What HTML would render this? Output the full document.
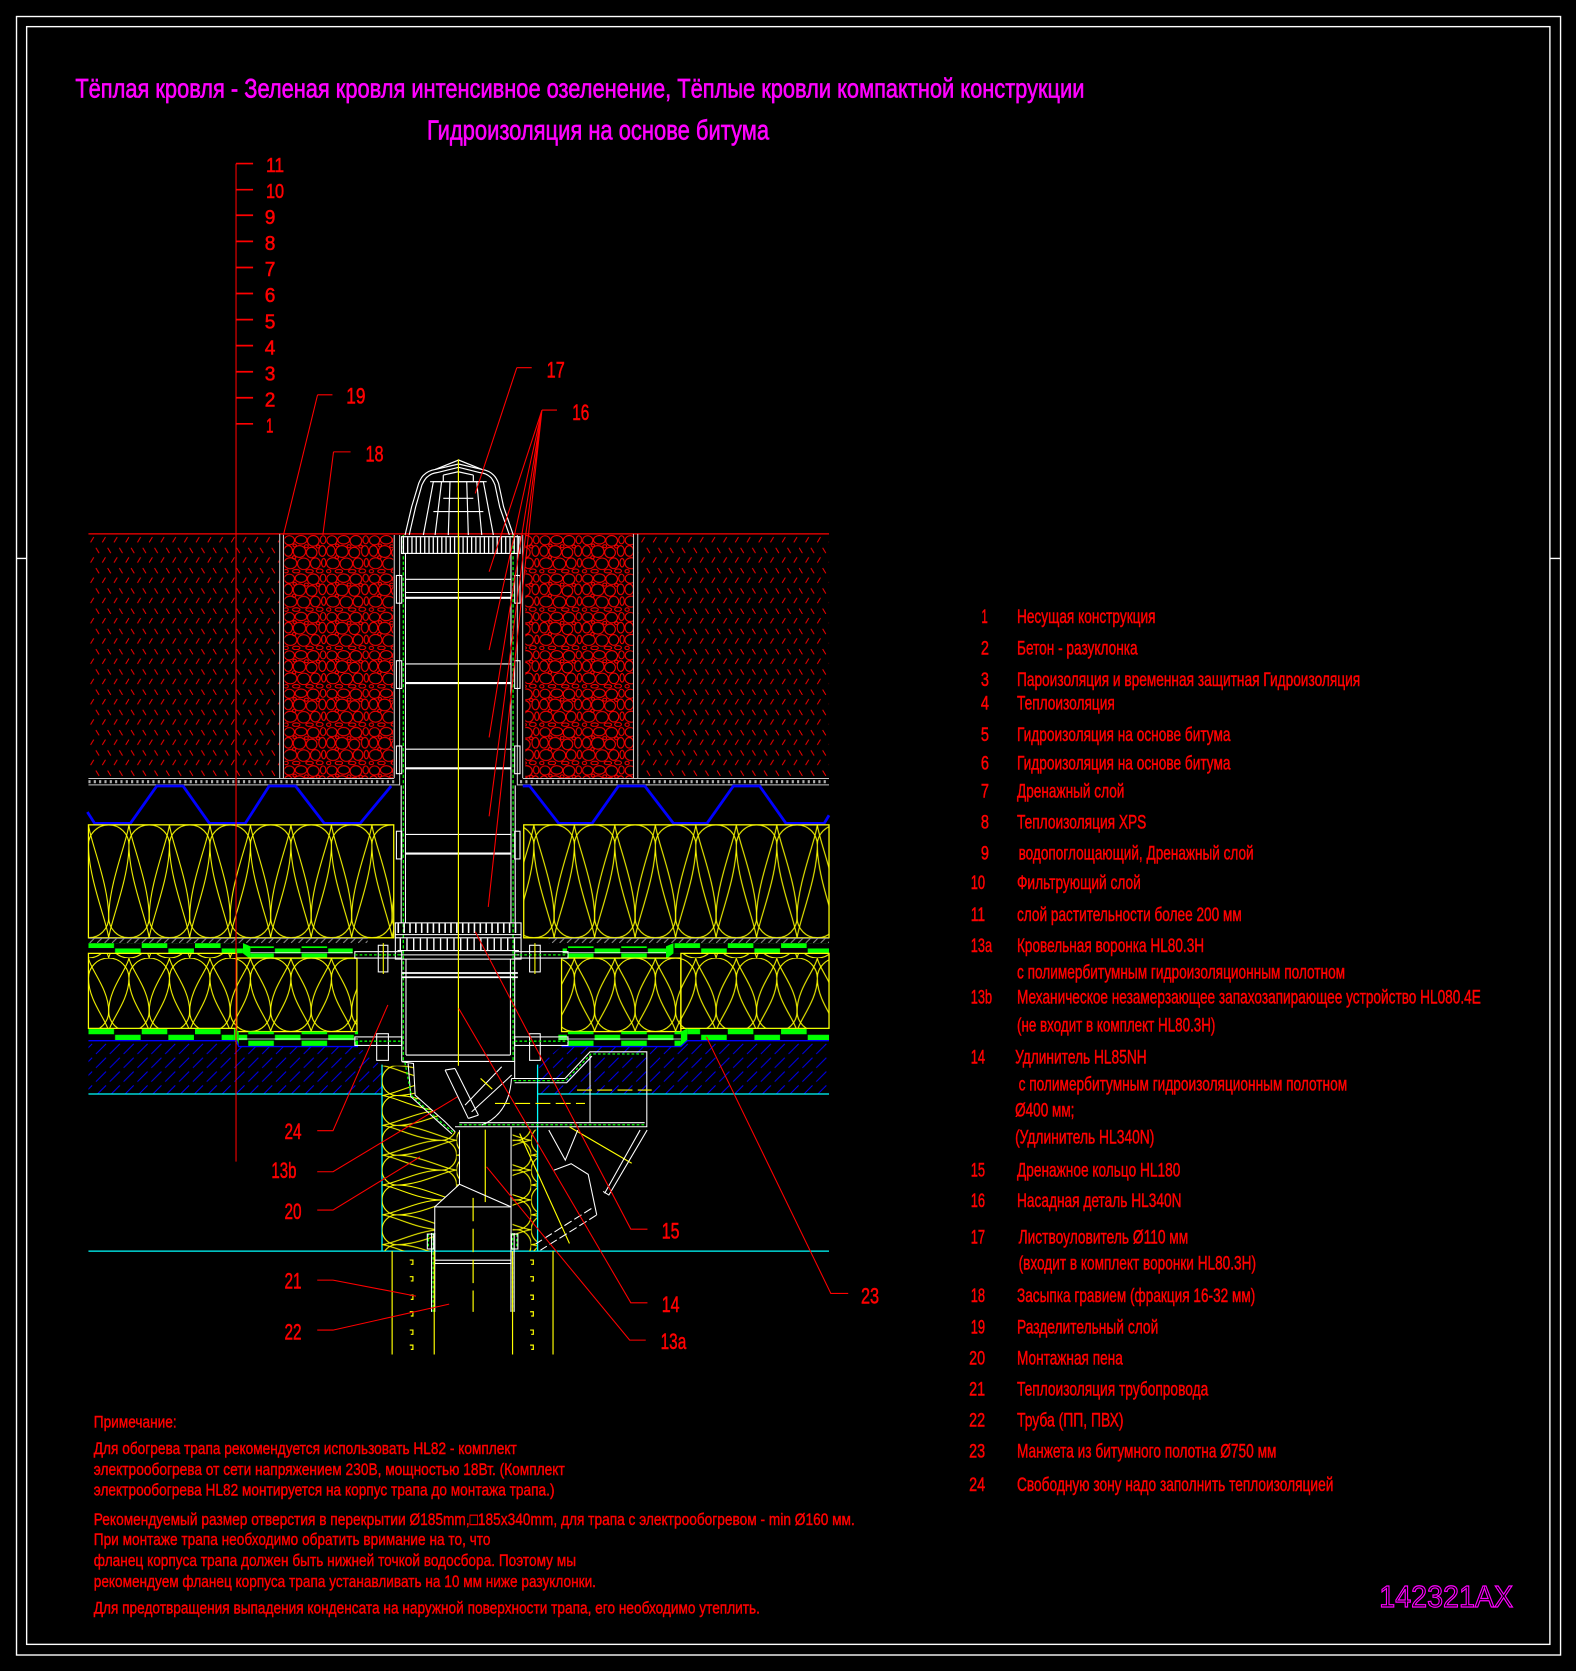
<!DOCTYPE html>
<html><head><meta charset="utf-8">
<style>
html,body{margin:0;padding:0;background:#000;}
svg{display:block;}
text{font-family:"Liberation Sans","DejaVu Sans",sans-serif;}
</style></head><body>
<svg xmlns="http://www.w3.org/2000/svg" width="1576" height="1671" viewBox="0 0 1479 1568" preserveAspectRatio="none">
<defs>
<pattern id="soil" patternUnits="userSpaceOnUse" x="83" y="502" width="11" height="19">
<path d="M2,7 L5,2 M7,12 L10,17" stroke="#f00" stroke-width="0.9" fill="none"/>
</pattern>
<pattern id="grav" patternUnits="userSpaceOnUse" x="266" y="502" width="40" height="36">
<g fill="none" stroke="#f00" stroke-width="1">
<ellipse cx="5.5" cy="5" rx="4.8" ry="4.3"/><ellipse cx="16.5" cy="4.5" rx="5.5" ry="4"/><ellipse cx="28" cy="5.5" rx="5.5" ry="5"/><ellipse cx="37.2" cy="4.5" rx="2.6" ry="3.8"/>
<ellipse cx="4.5" cy="15" rx="4" ry="5"/><ellipse cx="15" cy="15.5" rx="5.8" ry="5.5"/><ellipse cx="26.5" cy="16.5" rx="5" ry="5"/><ellipse cx="36.5" cy="15" rx="3.3" ry="5"/>
<ellipse cx="6.5" cy="26.5" rx="6" ry="5.2"/><ellipse cx="19" cy="27" rx="5.8" ry="5.4"/><ellipse cx="30" cy="26.5" rx="4.6" ry="5"/><ellipse cx="37.8" cy="26" rx="2" ry="4"/>
<ellipse cx="12" cy="34" rx="3.5" ry="1.7"/><ellipse cx="24.5" cy="34" rx="3.5" ry="1.6"/><ellipse cx="34" cy="33.8" rx="3.2" ry="1.9"/><ellipse cx="2.5" cy="34" rx="2" ry="1.6"/>
<ellipse cx="10.5" cy="9.8" rx="1.6" ry="1.3"/><ellipse cx="21.5" cy="10.5" rx="1.8" ry="1.4"/><ellipse cx="10" cy="21" rx="1.6" ry="1.5"/><ellipse cx="32.5" cy="10.8" rx="1.7" ry="1.4"/>
</g>
</pattern>
<pattern id="insU" patternUnits="userSpaceOnUse" x="83" y="774" width="38" height="106">
<g fill="none" stroke="#ff0" stroke-width="1">
<path d="M0,19 A19,19 0 0 1 38,19 C38,50 21,90 19,106 C17,90 0,50 0,19"/>
<path d="M-19,87 A19,19 0 0 0 19,87 C19,56 2,16 0,0 C-2,16 -19,56 -19,87"/>
<path d="M19,87 A19,19 0 0 0 57,87 C57,56 40,16 38,0 C36,16 19,56 19,87"/>
</g>
</pattern>
<pattern id="insL" patternUnits="userSpaceOnUse" x="83" y="899" width="38" height="69">
<g fill="none" stroke="#ff0" stroke-width="1">
<path d="M0,19 A19,19 0 0 1 38,19 C38,40 21,58 19,69 C17,58 0,40 0,19"/>
<path d="M-19,50 A19,19 0 0 0 19,50 C19,29 2,11 0,0 C-2,11 -19,29 -19,50"/>
<path d="M19,50 A19,19 0 0 0 57,50 C57,29 40,11 38,0 C36,11 19,29 19,50"/>
</g>
</pattern>
<pattern id="insF" patternUnits="userSpaceOnUse" x="358.5" y="1000" width="70" height="28">
<g fill="none" stroke="#ff0" stroke-width="1">
<path d="M14,0 A14,14 0 0 0 14,28 C36,28 58,15 70,14 C58,13 36,0 14,0"/>
<path d="M56,-14 A14,14 0 0 1 56,14 C34,14 12,1 0,0 C12,-1 34,-14 56,-14"/>
<path d="M56,14 A14,14 0 0 1 56,42 C34,42 12,29 0,28 C12,27 34,14 56,14"/>
</g>
</pattern>
<pattern id="slab" patternUnits="userSpaceOnUse" x="0" y="0" width="13" height="13">
<path d="M-1,1 L1,-1 M0,13 L13,0 M12,14 L14,12" stroke="#0000ff" stroke-width="0.9" stroke-dasharray="12 5"/>
</pattern>
<pattern id="gbU" patternUnits="userSpaceOnUse" x="83" y="885" width="50" height="9.6">
<rect x="0" y="0" width="24" height="4.6" fill="#0f0"/><rect x="25" y="5" width="24" height="4.6" fill="#0f0"/>
</pattern>
<pattern id="gbL" patternUnits="userSpaceOnUse" x="83" y="965" width="50" height="11">
<rect x="0" y="0.5" width="24" height="5" fill="#0f0"/><rect x="25" y="6" width="24" height="5" fill="#0f0"/>
</pattern>
<pattern id="gh" patternUnits="userSpaceOnUse" x="0" y="880" width="7" height="5">
<path d="M0,5 L5,0" stroke="#9a9a9a" stroke-width="0.9"/>
</pattern>
</defs>

<rect x="0" y="0" width="1479" height="1568" fill="#000"/>

<!-- frame -->
<rect x="15.5" y="15.5" width="1449" height="1537.5" fill="none" stroke="#fff" stroke-width="1.3"/>
<rect x="25" y="25" width="1429.5" height="1518" fill="none" stroke="#fff" stroke-width="1.3"/>
<path d="M15.5,524 H25 M1454.5,524 H1464.5" stroke="#fff" stroke-width="1.3"/>

<!-- titles -->
<text x="70.7" y="91.6" font-size="25" fill="#f0f" stroke="#f0f" stroke-width="0.6" textLength="947" lengthAdjust="spacingAndGlyphs">Тёплая кровля - Зеленая кровля интенсивное озеленение, Тёплые кровли компактной конструкции</text>
<text x="400.7" y="131" font-size="26" fill="#f0f" stroke="#f0f" stroke-width="0.6" textLength="321" lengthAdjust="spacingAndGlyphs">Гидроизоляция на основе битума</text>

<!-- soil blocks -->
<rect x="83" y="502" width="179" height="228" fill="url(#soil)"/>
<rect x="599" y="502" width="179" height="228" fill="url(#soil)"/>
<!-- gravel -->
<rect x="267" y="502" width="102" height="228" fill="url(#grav)"/>
<rect x="493" y="502" width="101" height="228" fill="url(#grav)"/>
<!-- ground line -->
<path d="M83,501 H778" stroke="#f00" stroke-width="1.2"/>
<!-- separators -->
<g stroke="#c8c8c8" stroke-width="1" fill="none">
<path d="M262.5,501 V731 M266,501 V731 M594.5,501 V731 M598.5,501 V731"/>
<path d="M370,502 V730 M375,502 V737 M485.5,502 V737 M490.5,502 V730"/>
<path d="M83,730.5 H370 M490.5,730.5 H778 M83,736.5 H375 M485.5,736.5 H778"/>
</g>
<path d="M83,733.5 H372 M488,733.5 H778" stroke="#b0b0b0" stroke-width="3" stroke-dasharray="2 3"/>

<!-- drainage zigzag -->
<g fill="none" stroke="#0000ff" stroke-width="2.6" stroke-linejoin="miter">
<polyline points="82,762 88.8,772.6 122.4,772.6 147.1,737.6 171.8,737.6 196.5,772.6 230.2,772.6 252.6,737.6 277.3,737.6 304.3,772.6 338,772.6 367.1,737.6"/>
<polyline points="490.6,737.6 497,737.6 524.3,772.6 555.7,772.6 580.4,737.6 605.1,737.6 632,772.6 663.5,772.6 688.2,737.6 712.9,737.6 737.6,772.6 773.5,772.6 778,765"/>
</g>

<!-- upper insulation -->
<rect x="83" y="774" width="286.5" height="106" fill="url(#insU)" stroke="#ff0" stroke-width="1.2"/>
<rect x="491.5" y="774" width="286.5" height="106" fill="url(#insU)" stroke="#ff0" stroke-width="1.2"/>

<!-- upper membranes -->
<rect x="83" y="880" width="262" height="5" fill="url(#gh)"/>
<rect x="515" y="880" width="263" height="5" fill="url(#gh)"/>
<path d="M83,880.5 H345 M515,880.5 H778" stroke="#9a9a9a" stroke-width="0.8"/>
<rect x="83" y="885" width="145" height="9.6" fill="url(#gbU)"/>
<polygon points="228,885 235,888 235,900 228,894.6" fill="#0f0"/>
<rect x="235" y="888" width="96" height="12" fill="url(#gbU)"/>
<rect x="528" y="888" width="97" height="12" fill="url(#gbU)"/>
<polygon points="625,888 632,885 632,894.6 625,900" fill="#0f0"/>
<rect x="632" y="885" width="146" height="9.6" fill="url(#gbU)"/>
<path d="M235,894 H331 M528,894 H625" stroke="#fff" stroke-width="0.7"/>

<!-- lower insulation -->
<rect x="83" y="894.6" width="139" height="70.4" fill="url(#insL)" stroke="#ff0" stroke-width="1.2"/>
<rect x="222" y="899" width="113" height="69" fill="url(#insL)" stroke="#ff0" stroke-width="1.2"/>
<rect x="527" y="899" width="112" height="69" fill="url(#insL)" stroke="#ff0" stroke-width="1.2"/>
<rect x="639" y="894.6" width="139" height="70.4" fill="url(#insL)" stroke="#ff0" stroke-width="1.2"/>

<!-- lower membranes -->
<rect x="83" y="965" width="136.5" height="11" fill="url(#gbL)"/>
<polygon points="219.5,965 224,968 224,982 219.5,976" fill="#0f0"/>
<rect x="224" y="968" width="112" height="14" fill="url(#gbL)"/>
<rect x="524" y="968" width="115" height="14" fill="url(#gbL)"/>
<polygon points="639,968 645,965 645,976 639,982" fill="#0f0"/>
<rect x="645" y="965" width="133" height="11" fill="url(#gbL)"/>
<path d="M224,975 H336 M524,975 H639" stroke="#fff" stroke-width="0.7"/>

<!-- slab -->
<polygon points="83,976 222,976 224,982 336,982 358,1000 358,1026.6 83,1026.6" fill="url(#slab)"/>
<polygon points="504,1000 527,982 639,982 645,976 778,976 778,1026.6 504,1026.6" fill="url(#slab)"/>
<path d="M83,976.5 H222 L224,982 H336 M527,982 H639 L645,976.5 H778" stroke="#0000ff" stroke-width="1.3" fill="none"/>
<!-- cyan -->
<g stroke="#0ff" stroke-width="1.2">
<path d="M83,1026.6 H358.5 M504.5,1026.6 H778 M358.5,999 V1174 M504.5,999 V1174 M83,1174 H778"/>
</g>

<!-- foam in opening -->
<polygon points="358.5,1000 388,1000 389.6,1027.6 417.7,1052.6 427.1,1062 431,1062 431,1111 408,1132.5 408,1174 358.5,1174" fill="url(#insF)"/>
<rect x="481" y="1060" width="23" height="114" fill="url(#insF)"/>

<!-- pipe upper walls -->
<g fill="none" stroke="#fff" stroke-width="1">
<path d="M376.5,737 V866 M483.5,737 V866 M380.5,519 V866 M479.5,519 V866"/>
<rect x="372" y="540" width="5" height="26"/><rect x="483" y="540" width="5" height="26"/>
<rect x="372" y="620" width="5" height="26"/><rect x="483" y="620" width="5" height="26"/>
<rect x="372" y="700" width="5" height="26"/><rect x="483" y="700" width="5" height="26"/>
<rect x="372" y="780" width="5" height="26"/><rect x="483" y="780" width="5" height="26"/>
</g>
<path d="M378.5,502 V996 M481.5,502 V996" stroke="#0f0" stroke-width="1.2" stroke-dasharray="3 2"/>
<g stroke="#fff">
<path d="M380.5,543.6 H479.5 M380.5,556 H479.5 M380.5,623 H479.5 M380.5,703 H479.5 M380.5,783 H479.5" stroke-width="1"/>
<path d="M380.5,561 H479.5 M380.5,641 H479.5 M380.5,721 H479.5 M380.5,801 H479.5" stroke-width="2"/>
</g>

<!-- dome / leaf catcher -->
<g fill="none" stroke="#fff" stroke-width="1.1">
<path d="M380.1,502.1 L386.3,475.5 L392.9,453.6 Q395.5,447.5 397.6,445.8 Q402,441.5 408.5,440.5 L430.4,435.4 L452.3,440.5 Q459,441.5 463.2,445.8 Q466,448.5 467.9,453.6 L472.6,475.5 L481.7,502.1"/>
<path d="M384,502 L390,476 L396,455 Q399,449 401,447.5 Q405,444 410,443.5 L430.4,438.5 L450.5,443.5 Q456,444 460,447.5 Q462,449 464.5,455 L469,476 L478,502"/>
<path d="M408.5,440.5 L430.4,431.7 L452.3,440.5"/>
<path d="M397.3,502 L406.7,452 L453.6,452 L463,502 M408.3,502 L414.4,452 M420.7,502 L422.3,452 M439.5,502 L438,452 M452.1,502 L447.4,452"/>
<path d="M403.6,452 H456.7 M416,467.6 H444.2 M406.7,480 H453.6 M416,445.8 L430,442.7 L444.2,445.8 M416,445.8 V452 M444.2,445.8 V452"/>
<rect x="376.8" y="503.6" width="111.2" height="15.7"/>
</g>
<line x1="378" y1="511.5" x2="487" y2="511.5" stroke="#fff" stroke-width="15" stroke-dasharray="1.2 2.8"/>

<!-- drain grate / body -->
<g fill="none" stroke="#fff" stroke-width="1">
<rect x="371" y="866" width="118" height="34"/>
<path d="M371,877 H489 M371,880 H489 M373,892 H487 M373,896 H487"/>
<path d="M377,913 H486 M377,917 H486" stroke-width="1.6"/>
<rect x="333" y="893" width="44" height="6"/><rect x="483" y="893" width="50" height="6"/>
<rect x="333" y="973" width="44" height="8"/><rect x="483" y="973" width="50" height="8"/>
<rect x="355" y="887" width="9" height="25"/><rect x="497" y="887" width="10" height="25"/>
<rect x="353.5" y="970" width="11" height="25"/><rect x="497" y="970" width="10" height="25"/>
<path d="M377,900 V996 M381,900 V990 M479,900 V990 M483,900 V1012"/>
<path d="M377,996 H483 M381,990 H479"/>
<path d="M377,996.3 L388,997.9 L389.6,1027.6 L417.7,1052.6 L427.1,1062 M383,998 L385.5,1029 L414,1055 L424,1064"/>
<path d="M480,1012 H530.2 L553.7,987 H607 V1057.3 H427 M483,1016 H531.8 L555.5,991 M431,1053.5 H605 M553.7,990 V1054"/>
<path d="M417.7,1004.1 L439.5,1049.5 M427,1002.6 L449,1046.4 M417.7,1004.1 L427,1002.6 M439.5,1049.5 L449,1046.4"/>
<path d="M436.4,1037 L470.8,1001 M442.6,1043.3 L480.2,1008.8 M480,1012 Q478,1045 452,1055.8"/>
</g>
<line x1="373" y1="871" x2="487" y2="871" stroke="#fff" stroke-width="9" stroke-dasharray="1.5 4"/>
<line x1="375" y1="886" x2="485" y2="886" stroke="#fff" stroke-width="11" stroke-dasharray="1.3 5"/>
<g stroke="#0f0" stroke-width="1.2" stroke-dasharray="2.5 2" fill="none">
<path d="M333,896 H377 M483,896 H533 M333,977 H377 M483,977 H533"/>
<path d="M380,997 L386,1028 L415,1054 L426,1063"/>
<path d="M482,1014 H531 L554.6,989 H605 M431,1055.4 H605"/>
<path d="M402,1158 V1172 M485,1158 V1172 M406.5,1157 V1231 M481,1157 V1231"/>
</g>
<!-- yellow dashed in body -->
<g stroke="#ff0" stroke-width="1.1" fill="none">
<path d="M464.5,1035.4 H549" stroke-dasharray="14 5"/>
<path d="M541.5,1022.9 H611.6" stroke-dasharray="14 5"/>
<path d="M451,1012 L462,1022"/>
<path d="M487.7,1063.6 L534.4,1166.8 M534.4,1057.4 L592.8,1091.6"/>
<path d="M455.4,1060 V1128"/>
</g>

<!-- outlet pipe down -->
<g fill="none" stroke="#fff" stroke-width="1">
<path d="M431.2,1060.5 V1111.3 L408,1132.5 M479.6,1057.3 V1132.5 M431.2,1111.3 L479.6,1132.5"/>
<rect x="408" y="1132.5" width="71.6" height="53.1"/>
<path d="M408,1182.5 H479.6"/>
<path d="M405,1157 V1231 M408,1157 V1231 M479.5,1157 V1231 M482.5,1157 V1231"/>
<rect x="401" y="1158" width="6" height="14"/><rect x="480" y="1158" width="6" height="14"/>
</g>
<!-- branch -->
<g fill="none" stroke="#fff" stroke-width="1">
<path d="M607.3,1060.4 L571.4,1121.4 L566,1118 M600.7,1060.4 L567.4,1119.8"/>
<path d="M515,1060.4 L530.5,1088.6 L542.2,1060.4"/>
<path d="M520,1098 L536,1092 L552,1102 L560,1140"/>
<path d="M559.8,1140.2 L507.2,1173.1 M555,1134 L503,1167" stroke-dasharray="8 3"/>
</g>
<!-- pipe insulation -->
<g stroke="#ff0" stroke-width="1.1" fill="none">
<path d="M368,1174 V1271 M407.5,1174 V1271 M481,1174 V1271 M519,1174 V1271"/>
<path d="M444,1124 V1231" stroke-dasharray="22 7"/>
<path d="M384.5,1182.4 h3 v4 h-2 M384.5,1198 h3 v4 h-2 M384.5,1215.3 h3 v4 h-2 M384.5,1230.9 h3 v4 h-2 M384.5,1248.1 h3 v4 h-2 M384.5,1262.2 h3 v4 h-2"/>
<path d="M497.5,1182.4 h3 v4 h-2 M497.5,1198 h3 v4 h-2 M497.5,1215.3 h3 v4 h-2 M497.5,1230.9 h3 v4 h-2 M497.5,1248.1 h3 v4 h-2 M497.5,1262.2 h3 v4 h-2"/>
</g>
<!-- center line -->
<path d="M430.2,431 V1000" stroke="#ff0" stroke-width="1.1"/>
<path d="M359.7,885 V914 M502,885 V914" stroke="#ff0" stroke-width="1"/>

<!-- scale -->
<g stroke="#f00">
<path d="M221.5,153.5 V1090" stroke-width="1"/>
<path d="M221.5,153.5 H237.5 M221.5,178 H237.5 M221.5,202 H237.5 M221.5,226.5 H237.5 M221.5,251 H237.5 M221.5,275.4 H237.5 M221.5,299.9 H237.5 M221.5,324.3 H237.5 M221.5,348.8 H237.5 M221.5,373.2 H237.5 M221.5,397.7 H237.5" stroke-width="1.6"/>
</g>
<g fill="#f00" stroke="#f00" stroke-width="0.5" font-size="19.5">
<text x="249.6" y="161.6" textLength="17" lengthAdjust="spacingAndGlyphs">11</text>
<text x="249.6" y="186" textLength="17" lengthAdjust="spacingAndGlyphs">10</text>
<text x="248.5" y="210.2" textLength="10" lengthAdjust="spacingAndGlyphs">9</text>
<text x="248.5" y="234.7" textLength="10" lengthAdjust="spacingAndGlyphs">8</text>
<text x="248.5" y="259.2" textLength="10" lengthAdjust="spacingAndGlyphs">7</text>
<text x="248.5" y="283.6" textLength="10" lengthAdjust="spacingAndGlyphs">6</text>
<text x="248.5" y="308.1" textLength="10" lengthAdjust="spacingAndGlyphs">5</text>
<text x="248.5" y="332.5" textLength="10" lengthAdjust="spacingAndGlyphs">4</text>
<text x="248.5" y="357" textLength="10" lengthAdjust="spacingAndGlyphs">3</text>
<text x="248.5" y="381.4" textLength="10" lengthAdjust="spacingAndGlyphs">2</text>
<text x="249.6" y="405.9" textLength="7" lengthAdjust="spacingAndGlyphs">1</text>
</g>

<!-- leaders -->
<g stroke="#f00" stroke-width="1" fill="none">
<path d="M485,345 H499 M485,345 L446,463"/>
<path d="M508.6,384.8 H522.7 M508.6,384.8 L459,536.5 M508.6,384.8 L459,610 M508.6,384.8 L459,692 M508.6,384.8 L459,766 M508.6,384.8 L458.2,851"/>
<path d="M298,370.5 H312 M298,370.5 L266,502"/>
<path d="M313,424 H329 M313,424 L303,502"/>
<path d="M297.7,1061 H312.5 L364,943"/>
<path d="M297.7,1099.5 H312.5 L429.3,1029.2"/>
<path d="M297.7,1135.5 H312.5 L394.2,1085.5"/>
<path d="M297.7,1201.2 H312.5 L390.4,1216.2"/>
<path d="M297.7,1248.1 H312.5 L421.5,1223.7"/>
<path d="M607.6,1153.4 H592 L446,874.3"/>
<path d="M607.6,1222.5 H592 L430.5,946.3"/>
<path d="M606,1257.5 H590.9 L456.6,1094.9"/>
<path d="M796,1213.7 H779.7 L662.9,972.9"/>
</g>
<g fill="#f00" stroke="#f00" stroke-width="0.5" font-size="21">
<text x="513" y="354" textLength="17" lengthAdjust="spacingAndGlyphs">17</text>
<text x="537" y="394" textLength="16" lengthAdjust="spacingAndGlyphs">16</text>
<text x="325" y="378.5" textLength="18" lengthAdjust="spacingAndGlyphs">19</text>
<text x="343" y="433" textLength="17" lengthAdjust="spacingAndGlyphs">18</text>
<text x="267" y="1069" textLength="16" lengthAdjust="spacingAndGlyphs">24</text>
<text x="254.7" y="1105.5" textLength="23.5" lengthAdjust="spacingAndGlyphs">13b</text>
<text x="267" y="1144" textLength="16" lengthAdjust="spacingAndGlyphs">20</text>
<text x="267" y="1209" textLength="16" lengthAdjust="spacingAndGlyphs">21</text>
<text x="267" y="1257" textLength="16" lengthAdjust="spacingAndGlyphs">22</text>
<text x="621" y="1162" textLength="16.7" lengthAdjust="spacingAndGlyphs">15</text>
<text x="621" y="1231" textLength="16.7" lengthAdjust="spacingAndGlyphs">14</text>
<text x="620" y="1266" textLength="24" lengthAdjust="spacingAndGlyphs">13a</text>
<text x="808" y="1223" textLength="17" lengthAdjust="spacingAndGlyphs">23</text>
</g>

<!-- legend -->
<g fill="#f00" stroke="#f00" stroke-width="0.45" font-size="18">
<text x="921" y="584.7" textLength="6" lengthAdjust="spacingAndGlyphs">1</text>
<text x="954.4" y="584.7" textLength="130" lengthAdjust="spacingAndGlyphs">Несущая конструкция</text>
<text x="920.5" y="614" textLength="7.6" lengthAdjust="spacingAndGlyphs">2</text>
<text x="954.4" y="614" textLength="113.2" lengthAdjust="spacingAndGlyphs">Бетон - разуклонка</text>
<text x="920.5" y="643.7" textLength="7.6" lengthAdjust="spacingAndGlyphs">3</text>
<text x="954.4" y="643.7" textLength="322.1" lengthAdjust="spacingAndGlyphs">Пароизоляция и временная защитная Гидроизоляция</text>
<text x="920.5" y="665.6" textLength="7.6" lengthAdjust="spacingAndGlyphs">4</text>
<text x="954.4" y="665.6" textLength="91.8" lengthAdjust="spacingAndGlyphs">Теплоизоляция</text>
<text x="920.5" y="695.3" textLength="7.6" lengthAdjust="spacingAndGlyphs">5</text>
<text x="954.4" y="695.3" textLength="200.4" lengthAdjust="spacingAndGlyphs">Гидроизоляция на основе битума</text>
<text x="920.5" y="722.2" textLength="7.6" lengthAdjust="spacingAndGlyphs">6</text>
<text x="954.4" y="722.2" textLength="200.4" lengthAdjust="spacingAndGlyphs">Гидроизоляция на основе битума</text>
<text x="920.5" y="748.5" textLength="7.6" lengthAdjust="spacingAndGlyphs">7</text>
<text x="954.4" y="748.5" textLength="100.8" lengthAdjust="spacingAndGlyphs">Дренажный слой</text>
<text x="920.5" y="777.5" textLength="7.6" lengthAdjust="spacingAndGlyphs">8</text>
<text x="954.4" y="777.5" textLength="121.4" lengthAdjust="spacingAndGlyphs">Теплоизоляция XPS</text>
<text x="920.5" y="806.6" textLength="7.6" lengthAdjust="spacingAndGlyphs">9</text>
<text x="955.9" y="806.6" textLength="220.6" lengthAdjust="spacingAndGlyphs">водопоглощающий, Дренажный слой</text>
<text x="911" y="834.4" textLength="13.5" lengthAdjust="spacingAndGlyphs">10</text>
<text x="954.4" y="834.4" textLength="116.2" lengthAdjust="spacingAndGlyphs">Фильтрующий слой</text>
<text x="911" y="864.4" textLength="13.5" lengthAdjust="spacingAndGlyphs">11</text>
<text x="954.4" y="864.4" textLength="210.9" lengthAdjust="spacingAndGlyphs">слой растительности более 200 мм</text>
<text x="911" y="893.3" textLength="20" lengthAdjust="spacingAndGlyphs">13a</text>
<text x="954.4" y="893.3" textLength="175.6" lengthAdjust="spacingAndGlyphs">Кровельная воронка HL80.3H</text>
<text x="954.4" y="918.3" textLength="307.9" lengthAdjust="spacingAndGlyphs">с полимербитумным гидроизоляционным полотном</text>
<text x="911" y="941.8" textLength="20" lengthAdjust="spacingAndGlyphs">13b</text>
<text x="954.4" y="941.8" textLength="435.3" lengthAdjust="spacingAndGlyphs">Механическое незамерзающее запахозапирающее устройство HL080.4E</text>
<text x="954.4" y="967.7" textLength="186.2" lengthAdjust="spacingAndGlyphs">(не входит в комплект HL80.3H)</text>
<text x="911" y="998.1" textLength="13.5" lengthAdjust="spacingAndGlyphs">14</text>
<text x="952.6" y="998.1" textLength="123.5" lengthAdjust="spacingAndGlyphs">Удлинитель HL85NH</text>
<text x="955.9" y="1023.1" textLength="308.3" lengthAdjust="spacingAndGlyphs">с полимербитумным гидроизоляционным полотном</text>
<text x="952.6" y="1047.5" textLength="55.7" lengthAdjust="spacingAndGlyphs">Ø400 мм;</text>
<text x="952.6" y="1073.2" textLength="130.7" lengthAdjust="spacingAndGlyphs">(Удлинитель HL340N)</text>
<text x="911" y="1103.8" textLength="13.5" lengthAdjust="spacingAndGlyphs">15</text>
<text x="954.4" y="1103.8" textLength="153.3" lengthAdjust="spacingAndGlyphs">Дренажное кольцо HL180</text>
<text x="911" y="1132.6" textLength="13.5" lengthAdjust="spacingAndGlyphs">16</text>
<text x="954.4" y="1132.6" textLength="154.4" lengthAdjust="spacingAndGlyphs">Насадная деталь HL340N</text>
<text x="911" y="1167" textLength="13.5" lengthAdjust="spacingAndGlyphs">17</text>
<text x="955.9" y="1167" textLength="159.2" lengthAdjust="spacingAndGlyphs">Листвоуловитель Ø110 мм</text>
<text x="955.9" y="1191.4" textLength="222.8" lengthAdjust="spacingAndGlyphs">(входит в комплект воронки HL80.3H)</text>
<text x="911" y="1221.8" textLength="13.5" lengthAdjust="spacingAndGlyphs">18</text>
<text x="954.4" y="1221.8" textLength="223.6" lengthAdjust="spacingAndGlyphs">Засыпка гравием (фракция 16-32 мм)</text>
<text x="911" y="1251.5" textLength="13.5" lengthAdjust="spacingAndGlyphs">19</text>
<text x="954.4" y="1251.5" textLength="132.6" lengthAdjust="spacingAndGlyphs">Разделительный слой</text>
<text x="909.5" y="1280.3" textLength="15" lengthAdjust="spacingAndGlyphs">20</text>
<text x="954.4" y="1280.3" textLength="99.3" lengthAdjust="spacingAndGlyphs">Монтажная пена</text>
<text x="909.5" y="1309.4" textLength="15" lengthAdjust="spacingAndGlyphs">21</text>
<text x="954.4" y="1309.4" textLength="179.5" lengthAdjust="spacingAndGlyphs">Теплоизоляция трубопровода</text>
<text x="909.5" y="1338.5" textLength="15" lengthAdjust="spacingAndGlyphs">22</text>
<text x="954.4" y="1338.5" textLength="100" lengthAdjust="spacingAndGlyphs">Труба (ПП, ПВХ)</text>
<text x="909.5" y="1367.9" textLength="15" lengthAdjust="spacingAndGlyphs">23</text>
<text x="954.4" y="1367.9" textLength="243.5" lengthAdjust="spacingAndGlyphs">Манжета из битумного полотна Ø750 мм</text>
<text x="909.5" y="1399.1" textLength="15" lengthAdjust="spacingAndGlyphs">24</text>
<text x="954.4" y="1399.1" textLength="296.9" lengthAdjust="spacingAndGlyphs">Свободную зону надо заполнить теплоизоляцией</text>
</g>

<!-- notes -->
<g fill="#f00" stroke="#f00" stroke-width="0.4" font-size="16">
<text x="88" y="1339.5" textLength="77.8" lengthAdjust="spacingAndGlyphs">Примечание:</text>
<text x="88" y="1364.5" textLength="397" lengthAdjust="spacingAndGlyphs">Для обогрева трапа рекомендуется использовать HL82 - комплект</text>
<text x="88" y="1384" textLength="442" lengthAdjust="spacingAndGlyphs">электрообогрева от сети напряжением 230В, мощностью 18Вт. (Комплект</text>
<text x="88" y="1403.5" textLength="432.4" lengthAdjust="spacingAndGlyphs">электрообогрева HL82 монтируется на корпус трапа до монтажа трапа.)</text>
<text x="88" y="1431" textLength="714.2" lengthAdjust="spacingAndGlyphs">Рекомендуемый размер отверстия в перекрытии Ø185mm,□185x340mm, для трапа с электрообогревом - min Ø160 мм.</text>
<text x="88" y="1450" textLength="372.3" lengthAdjust="spacingAndGlyphs">При монтаже трапа необходимо обратить вримание на то, что</text>
<text x="88" y="1469.5" textLength="452.6" lengthAdjust="spacingAndGlyphs">фланец корпуса трапа должен быть нижней точкой водосбора. Поэтому мы</text>
<text x="88" y="1489" textLength="471.3" lengthAdjust="spacingAndGlyphs">рекомендуем фланец корпуса трапа устанавливать на 10 мм ниже разуклонки.</text>
<text x="88" y="1514" textLength="625.2" lengthAdjust="spacingAndGlyphs">Для предотвращения выпадения конденсата на наружной поверхности трапа, его необходимо утеплить.</text>
</g>

<text x="1294.4" y="1507.8" font-size="28.5" fill="none" stroke="#f0f" stroke-width="1.1" textLength="125.6" lengthAdjust="spacingAndGlyphs">142321AX</text>
</svg>
</body></html>
